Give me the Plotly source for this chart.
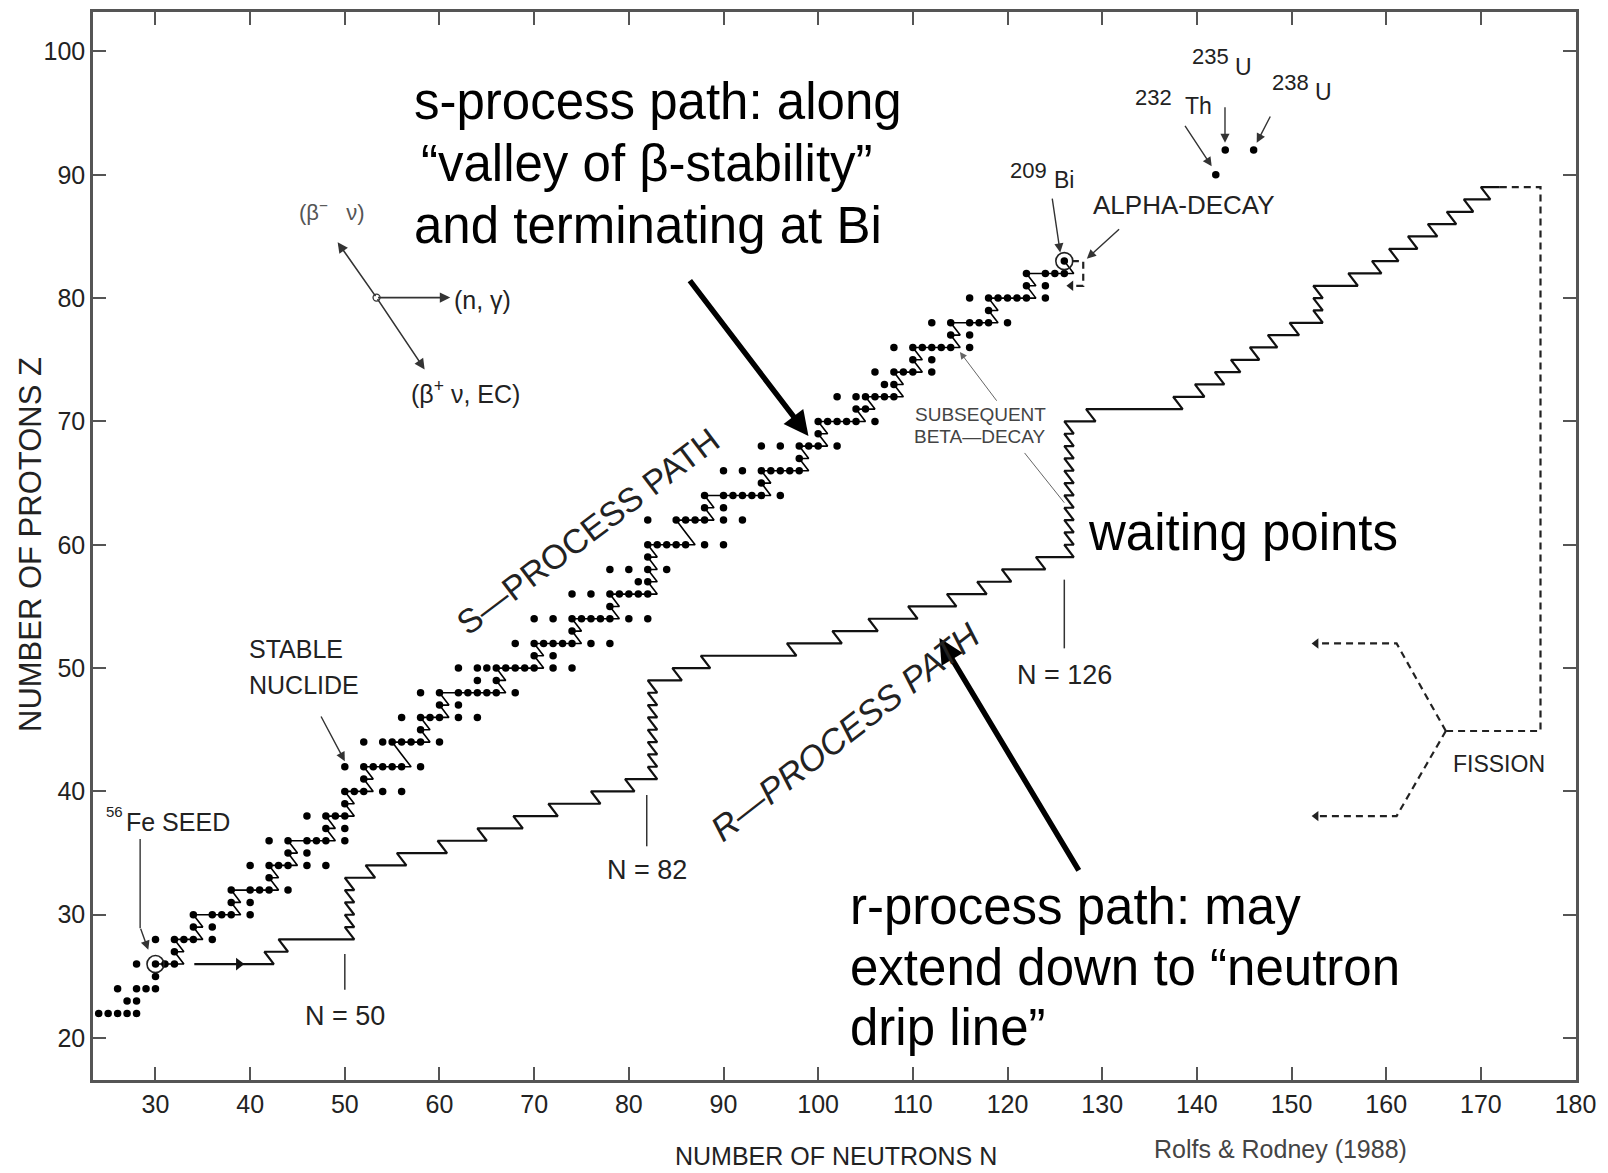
import plotly.graph_objects as go

# ---------------- data ----------------
# stable nuclides: proton number Z and neutron number N (parallel lists)
stable_Z = [22, 22, 22, 22, 22, 23, 23, 24, 24, 24, 24, 25, 26, 26, 26, 26, 27,
            28, 28, 28, 28, 28, 29, 29, 30, 30, 30, 30, 30, 31, 31,
            32, 32, 32, 32, 32, 33, 34, 34, 34, 34, 34, 34, 35, 35,
            36, 36, 36, 36, 36, 36, 37, 37, 38, 38, 38, 38, 39,
            40, 40, 40, 40, 40, 41, 42, 42, 42, 42, 42, 42, 42,
            44, 44, 44, 44, 44, 44, 44, 45, 46, 46, 46, 46, 46, 46, 47, 47,
            48, 48, 48, 48, 48, 48, 48, 48, 49, 49,
            50, 50, 50, 50, 50, 50, 50, 50, 50, 50, 51, 51,
            52, 52, 52, 52, 52, 52, 52, 52, 53,
            54, 54, 54, 54, 54, 54, 54, 54, 54, 55,
            56, 56, 56, 56, 56, 56, 56, 57, 57, 58, 58, 58, 58, 59,
            60, 60, 60, 60, 60, 60, 60, 62, 62, 62, 62, 62, 62, 62, 63, 63,
            64, 64, 64, 64, 64, 64, 64, 65, 66, 66, 66, 66, 66, 66, 66, 67,
            68, 68, 68, 68, 68, 68, 69, 70, 70, 70, 70, 70, 70, 70, 71, 71,
            72, 72, 72, 72, 72, 72, 73, 73, 74, 74, 74, 74, 74, 75, 75,
            76, 76, 76, 76, 76, 76, 76, 77, 77, 78, 78, 78, 78, 78, 78, 79,
            80, 80, 80, 80, 80, 80, 80, 81, 81, 82, 82, 82, 82, 83]
stable_N = [24, 25, 26, 27, 28, 27, 28, 26, 28, 29, 30, 30, 28, 30, 31, 32, 32,
            30, 32, 33, 34, 36, 34, 36, 34, 36, 37, 38, 40, 38, 40,
            38, 40, 41, 42, 44, 42, 40, 42, 43, 44, 46, 48, 44, 46,
            42, 44, 46, 47, 48, 50, 48, 50, 46, 48, 49, 50, 50,
            50, 51, 52, 54, 56, 52, 50, 52, 53, 54, 55, 56, 58,
            52, 54, 55, 56, 57, 58, 60, 58, 56, 58, 59, 60, 62, 64, 60, 62,
            58, 60, 62, 63, 64, 65, 66, 68, 64, 66,
            62, 64, 65, 66, 67, 68, 69, 70, 72, 74, 70, 72,
            68, 70, 71, 72, 73, 74, 76, 78, 74,
            70, 72, 74, 75, 76, 77, 78, 80, 82, 78,
            74, 76, 78, 79, 80, 81, 82, 81, 82, 78, 80, 82, 84, 82,
            82, 83, 84, 85, 86, 88, 90, 82, 85, 86, 87, 88, 90, 92, 88, 90,
            88, 90, 91, 92, 93, 94, 96, 94, 90, 92, 94, 95, 96, 97, 98, 98,
            94, 96, 98, 99, 100, 102, 100, 98, 100, 101, 102, 103, 104, 106, 104, 105,
            102, 104, 105, 106, 107, 108, 107, 108, 106, 108, 109, 110, 112, 110, 112,
            108, 110, 111, 112, 113, 114, 116, 114, 116, 112, 114, 116, 117, 118, 120, 118,
            116, 118, 119, 120, 121, 122, 124, 122, 124, 122, 124, 125, 126, 126]
# long-lived actinides 232Th, 235U, 238U
actinide_Z = [90, 92, 92]
actinide_N = [142, 143, 146]
seed_N, seed_Z = 30, 26          # 56Fe seed
bi_N, bi_Z = 126, 83             # 209Bi, end of the s-process

# r-process path: for each Z level the N at the end of the horizontal run
r_start_N = 34.1
r_Z = [26, 27, 28, 29, 30, 31, 32, 33, 34, 35, 36, 37, 38, 39, 40,
       41, 42, 43, 44, 45, 46, 47, 48, 49, 50, 51, 52, 53, 54, 55, 56, 57, 58,
       59, 60, 61, 62, 63, 64, 65, 66, 67, 68, 69, 70, 71, 72, 73, 74, 75, 76,
       77, 78, 79, 80, 81, 82, 83, 84, 85, 86, 87, 88, 89]
r_Nend = [42.5, 44.0, 51, 51, 51, 51, 51, 53.2, 56.5, 60.8, 65.0, 68.8, 72.5, 77.0, 80.6,
          83, 83, 83, 83, 83, 83, 83, 83, 85.6, 88.6, 97.7, 102.5, 106.3, 110.5, 114.6, 117.8, 120.4, 124.0,
          127, 127, 127, 127, 127, 127, 127, 127, 127, 127, 127, 129.3, 138.5, 140.8, 142.9, 144.6, 146.6, 148.5,
          150.8, 153.3, 153.3, 153.3, 157.0, 159.5, 161.3, 163.3, 165.4, 167.4, 169.2, 171.0, 172.0]
seed_arrow_N = 38.8

# fission (dashed)
fission_main_N = [172.0, 176.3, 176.3, 166.3]
fission_main_Z = [89, 89, 44.9, 44.9]
fission_up_N = [166.3, 161.1, 152.6]
fission_up_Z = [44.9, 52.0, 52.0]
fission_dn_N = [166.3, 161.1, 152.6]
fission_dn_Z = [44.9, 38.0, 38.0]
# alpha-decay loop near Bi (dashed)
alpha_N = [126.8, 128.0, 128.0, 126.7]
alpha_Z = [83.0, 83.0, 81.0, 81.0]

x_ticks = list(range(30, 190, 10))
y_ticks = list(range(20, 110, 10))

# ---------------- derived: s-process path through stable nuclides ----------------
stable = set(zip(stable_N, stable_Z))
s_N, s_Z = [seed_N], [seed_Z]
n, z = seed_N, seed_Z
guard = 0
while (n, z) != (bi_N, bi_Z) and guard < 3000:
    guard += 1
    if (n + 1, z) in stable:
        n += 1
        s_N.append(n); s_Z.append(z)
    elif (n, z + 1) in stable:
        s_N += [n + 1, n]; s_Z += [z, z + 1]
        z += 1
    elif (n - 1, z + 2) in stable:
        s_N += [n + 1, n, n - 1]; s_Z += [z, z + 1, z + 2]
        n, z = n - 1, z + 2
    elif (n + 2, z) in stable:
        s_N += [n + 1, n + 2]; s_Z += [z, z]
        n += 2
    else:
        break

# r-process polyline
r_N_line, r_Z_line = [r_start_N], [r_Z[0]]
for i, (zz, ne) in enumerate(zip(r_Z, r_Nend)):
    if i > 0:
        r_N_line.append(r_Nend[i - 1] - 1)
        r_Z_line.append(zz)
    r_N_line.append(ne)
    r_Z_line.append(zz)

# ---------------- figure ----------------
# The page body has an 8 px margin, so the figure is 8 px smaller on each side
# and the plot area lands on page pixels x 93..1576, y 12..1080.
OFF = 8
PL, PR, PT, PB = 93, 1576, 12, 1080
W, H = 1608 - OFF, 1173 - OFF
ML, MT = PL - OFF, PT - OFF
MR, MB = W + OFF - PR, H + OFF - PB
XR = [23.4, 180.05]
YR = [16.6, 103.2]

def P(sx, sy):
    """reference-picture pixel (1568-wide view) -> data coordinates"""
    return 30 + (sx - 152) / 9.25, 100 - (sy - 50) / 12.025

def paper(px, py):
    """page pixel (full size) -> paper coordinates"""
    return (px - PL) / (PR - PL), (PB - py) / (PB - PT)

SANS = "Liberation Sans, Arial, Helvetica, sans-serif"
INK = "#222222"

fig = go.Figure()

# s-process zigzag
fig.add_trace(go.Scatter(x=s_N, y=s_Z, mode="lines",
                         line=dict(color="black", width=1.6), hoverinfo="skip"))
# r-process path
fig.add_trace(go.Scatter(x=r_N_line, y=r_Z_line, mode="lines",
                         line=dict(color="#111111", width=2.2), hoverinfo="skip"))
# dashed lines
for xs, ys in [(fission_main_N, fission_main_Z), (fission_up_N, fission_up_Z),
               (fission_dn_N, fission_dn_Z), (alpha_N, alpha_Z)]:
    fig.add_trace(go.Scatter(x=xs, y=ys, mode="lines",
                             line=dict(color="#222222", width=2.2, dash="7px,5px"),
                             hoverinfo="skip"))
# stable nuclides
fig.add_trace(go.Scatter(x=stable_N + actinide_N, y=stable_Z + actinide_Z, mode="markers",
                         marker=dict(color="black", size=7.5), hoverinfo="skip"))
# circles around seed and Bi
fig.add_trace(go.Scatter(x=[seed_N, bi_N], y=[seed_Z, bi_Z], mode="markers",
                         marker=dict(symbol="circle-open", size=17, color="#222222",
                                     line=dict(width=1.6)), hoverinfo="skip"))
# arrow heads on the seed line and the dashed lines
fig.add_trace(go.Scatter(x=[seed_arrow_N], y=[r_Z[0]], mode="markers",
                         marker=dict(symbol="triangle-right", size=11, color="#111111"),
                         hoverinfo="skip"))
fig.add_trace(go.Scatter(x=[fission_up_N[-1], fission_dn_N[-1], alpha_N[-1]],
                         y=[fission_up_Z[-1], fission_dn_Z[-1], alpha_Z[-1]], mode="markers",
                         marker=dict(symbol="triangle-left", size=9, color="#222222"),
                         hoverinfo="skip"))

shapes = []
# magic-number marker lines
for (sx, y0, y1) in [(337, 930, 965), (632, 775, 825), (1040, 565, 632)]:
    xa, ya = P(sx, y0)
    _, yb = P(sx, y1)
    shapes.append(dict(type="line", xref="x", yref="y", x0=xa, x1=xa, y0=ya, y1=yb,
                       line=dict(color="#333333", width=1.5)))
# 56Fe seed label leader
xa, ya = P(137, 818)
_, yb = P(137, 905)
shapes.append(dict(type="line", xref="x", yref="y", x0=xa, x1=xa, y0=ya, y1=yb,
                   line=dict(color="#333333", width=1.4)))

ann = []

def text(t, sx, sy, size, family=SANS, color=INK, xanchor="center", angle=0, italic=False):
    x, y = P(sx, sy)
    f = dict(family=family, size=size, color=color)
    if italic:
        f["style"] = "italic"
    ann.append(dict(text=t, x=x, y=y, xref="x", yref="y", showarrow=False,
                    xanchor=xanchor, yanchor="middle", font=f, textangle=angle))

def arrow(hx, hy, tx, ty, width=1.4, color="#333333", head=2, size=1.3):
    x, y = P(hx, hy)
    ax, ay = P(tx, ty)
    ann.append(dict(x=x, y=y, ax=ax, ay=ay, xref="x", yref="y", axref="x", ayref="y",
                    text="", showarrow=True, arrowhead=head, arrowsize=size,
                    arrowwidth=width, arrowcolor=color, standoff=0, startstandoff=0))

# big explanatory texts
big = 51
text("s-process path: along", 403, 99, big, SANS, "black", "left")
text("\u201cvalley of \u03b2-stability\u201d", 409, 159, big, SANS, "black", "left")
text("and terminating at Bi", 403, 220, big, SANS, "black", "left")
text("waiting points", 1061, 519, big, SANS, "black", "left")
text("r-process path: may", 829, 884, big, SANS, "black", "left")
text("extend down to \u201cneutron", 829, 943, big, SANS, "black", "left")
text("drip line\u201d", 829, 1002, big, SANS, "black", "left")
arrow(790, 425, 673, 272, width=5.5, color="black", head=2, size=0.9)
arrow(918, 622, 1055, 850, width=5.5, color="black", head=2, size=0.9)

# path names
text("S\u2014PROCESS PATH", 575, 518, 34, SANS, INK, angle=-37)
text("R\u2014PROCESS PATH", 826, 713, 35, SANS, INK, angle=-38, italic=True)

# labels
text("STABLE", 241, 633, 25, xanchor="left")
text("NUCLIDE", 241, 668, 25, xanchor="left")
arrow(337, 742, 313, 697)
text("56", 112, 791, 15)
text("Fe SEED", 121, 801, 25, xanchor="left")
arrow(145, 926, 137, 904)
text("N = 50", 337, 990, 27)
text("N = 82", 632, 848, 27)
text("N = 126", 1040, 658, 27)

# reaction diagram
cx, cy = P(368, 290)
fig.add_trace(go.Scatter(x=[cx], y=[cy], mode="markers", hoverinfo="skip",
                         marker=dict(symbol="circle-open", size=7, color="#333333",
                                     line=dict(width=1.3))))
arrow(330, 236, 368, 290, width=1.6)
arrow(440, 290, 368, 290, width=1.6)
arrow(415, 360, 368, 290, width=1.6)
text("(\u03b2<sup>\u2212</sup>   \u03bd)", 324, 206, 22, color="#555555")
text("(n, \u03b3)", 442, 292, 25, xanchor="left")
text("(\u03b2<sup>+</sup> \u03bd, EC)", 455, 382, 25)

# heavy end labels
text("209", 1005, 166, 22)
text("Bi", 1040, 175, 23)
arrow(1036, 246, 1028, 192)
text("ALPHA-DECAY", 1157, 200, 26)
arrow(1062, 252, 1095, 222)
text("235", 1183, 55, 22)
text("U", 1215, 65, 23)
text("232", 1127, 95, 22)
text("Th", 1171, 103, 23)
text("238", 1261, 80, 22)
text("U", 1293, 90, 23)
arrow(1184, 162, 1157, 121)
arrow(1197, 139, 1197, 103)
arrow(1228, 139, 1242, 112)
text("SUBSEQUENT", 958, 404, 19, color="#444444")
text("BETA\u2014DECAY", 958, 425, 19, color="#444444")
arrow(938, 343, 975, 392, width=1.0, color="#666666", size=1.4)
arrow(1040, 490, 1000, 440, width=1.0, color="#666666", head=0)
text("FISSION", 1465, 745, 23)

# axis titles and credit (paper coordinates)
px_, py_ = paper(836, 1156)
ann.append(dict(text="NUMBER OF NEUTRONS N", x=px_, y=py_, xref="paper", yref="paper",
                showarrow=False, xanchor="center", yanchor="middle",
                font=dict(family=SANS, size=25, color=INK)))
px_, py_ = paper(30, 545)
ann.append(dict(text="NUMBER OF PROTONS Z", x=px_, y=py_, xref="paper", yref="paper",
                showarrow=False, xanchor="center", yanchor="middle", textangle=-90,
                font=dict(family=SANS, size=31, color=INK)))
px_, py_ = paper(1280, 1149)
ann.append(dict(text="Rolfs & Rodney (1988)", x=px_, y=py_, xref="paper", yref="paper",
                showarrow=False, xanchor="center", yanchor="middle",
                font=dict(family=SANS, size=25, color="#444444")))

axis_common = dict(showgrid=False, zeroline=False, showline=True, linecolor="#555555",
                   linewidth=2.5, ticks="inside", ticklen=13, tickwidth=2, tickcolor="#555555",
                   mirror="ticks", automargin=False,
                   tickfont=dict(family=SANS, size=25, color=INK))
fig.update_layout(
    width=W, height=H, margin=dict(l=ML, r=MR, t=MT, b=MB, autoexpand=False),
    paper_bgcolor="white", plot_bgcolor="white", showlegend=False,
    xaxis=dict(range=XR, tickmode="array", tickvals=x_ticks, **axis_common),
    yaxis=dict(range=YR, tickmode="array", tickvals=y_ticks, **axis_common),
    shapes=shapes, annotations=ann,
)
fig.write_html("out.html")
